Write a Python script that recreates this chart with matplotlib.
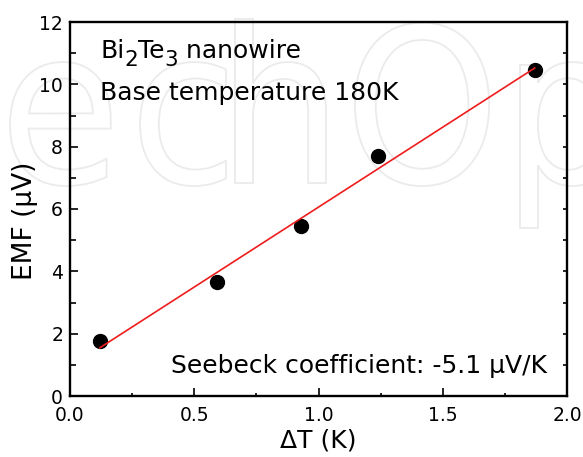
import numpy as np
import matplotlib
matplotlib.use("Agg")
import matplotlib.pyplot as plt
from matplotlib.ticker import MultipleLocator, FormatStrFormatter
from matplotlib.textpath import TextPath
from matplotlib.patches import PathPatch
from matplotlib.font_manager import FontProperties
from matplotlib.transforms import Affine2D, IdentityTransform

# Measured thermoelectric voltage vs. temperature difference
delta_t = [0.12, 0.59, 0.93, 1.24, 1.87]      # K
emf = [1.76, 3.65, 5.45, 7.70, 10.46]         # uV

x_ticks = [0.0, 0.5, 1.0, 1.5, 2.0]
y_ticks = [0, 2, 4, 6, 8, 10, 12]

sample_parts = [("Bi", 0), ("2", 1), ("Te", 0), ("3", 1), (" nanowire", 0)]
base_temp_text = "Base temperature 180K"
seebeck_text = "Seebeck coefficient: -5.1 \u03bcV/K"

W, H = 583, 457
fig = plt.figure(figsize=(W / 100, H / 100), dpi=100)

# faint outlined logo lettering in the background
wm_prop = FontProperties(family="DejaVu Sans")
wm_letters = ["e", "c", "h", "O", "p"]
wm_left = [10, 140, 235, 355, 520]
wm_base = H - 183
for ch, left in zip(wm_letters, wm_left):
    tp = TextPath((0, 0), ch, size=216, prop=wm_prop)
    ext = tp.get_extents()
    tr = Affine2D().scale(0.92, 1.0).translate(left - ext.x0 * 0.92, wm_base)
    patch = PathPatch(tr.transform_path(tp), facecolor="none",
                      edgecolor="#ebebeb", lw=1.3,
                      transform=IdentityTransform(), zorder=-5)
    fig.add_artist(patch)

ax = fig.add_axes([70 / W, 61 / H, 497 / W, 374 / H])
ax.patch.set_alpha(0)

# linear fit of the measured points
slope, intercept = np.polyfit(delta_t, emf, 1)
fit_x = np.array([min(delta_t), max(delta_t)])

ax.plot(delta_t, emf, "o", color="black", markersize=10, zorder=3)
ax.plot(fit_x, slope * fit_x + intercept, color="#ee1c1c", lw=1.2, zorder=4)

ax.set_xlim(0, 2)
ax.set_ylim(0, 12)
ax.set_xticks(x_ticks)
ax.set_yticks(y_ticks)
ax.xaxis.set_major_formatter(FormatStrFormatter("%.1f"))
ax.xaxis.set_minor_locator(MultipleLocator(0.25))
ax.yaxis.set_minor_locator(MultipleLocator(1))

for s in ax.spines.values():
    s.set_linewidth(1.7)

ax.tick_params(axis="both", which="both", direction="in", top=False,
               right=False, labelsize=13.5, width=1.2)
ax.tick_params(axis="x", which="major", length=5.5, pad=7)
ax.tick_params(axis="x", which="minor", length=2.5)
ax.tick_params(axis="y", which="major", length=6, pad=5)
ax.tick_params(axis="y", which="minor", length=4.5)

# small inward ticks on the right frame
ax_r = ax.twinx()
ax_r.set_ylim(0, 12)
ax_r.yaxis.set_major_locator(MultipleLocator(1))
ax_r.tick_params(axis="y", direction="in", length=3, width=1.2,
                 labelright=False)
for s in ax_r.spines.values():
    s.set_visible(False)

ax.set_xlabel("\u0394T (K)", fontsize=18)
ax.set_ylabel("EMF (\u03bcV)", fontsize=19)
ax.xaxis.set_label_coords(0.5, -0.086)
ax.yaxis.set_label_coords(-0.065, 0.468)

# sample name with lowered subscripts
fs_main, fs_sub = 18, 15.5
prev = ax.text(0.0604, 0.8904, sample_parts[0][0], transform=ax.transAxes,
               fontsize=fs_main, va="bottom")
anchor = prev
for txt, is_sub in sample_parts[1:]:
    fs = fs_sub if is_sub else fs_main
    dy = -5.0 if is_sub else 0.0
    prev = ax.annotate(txt, xy=(1, 0), xycoords=(prev, anchor),
                       xytext=(0, dy), textcoords="offset points",
                       fontsize=fs, va="bottom", ha="left")

ax.text(0.0604, 0.791, base_temp_text, transform=ax.transAxes,
        fontsize=fs_main, va="baseline")
ax.text(0.203, 0.0615, seebeck_text, transform=ax.transAxes,
        fontsize=fs_main, va="baseline")

fig.savefig("out.png", dpi=100, facecolor="white")
